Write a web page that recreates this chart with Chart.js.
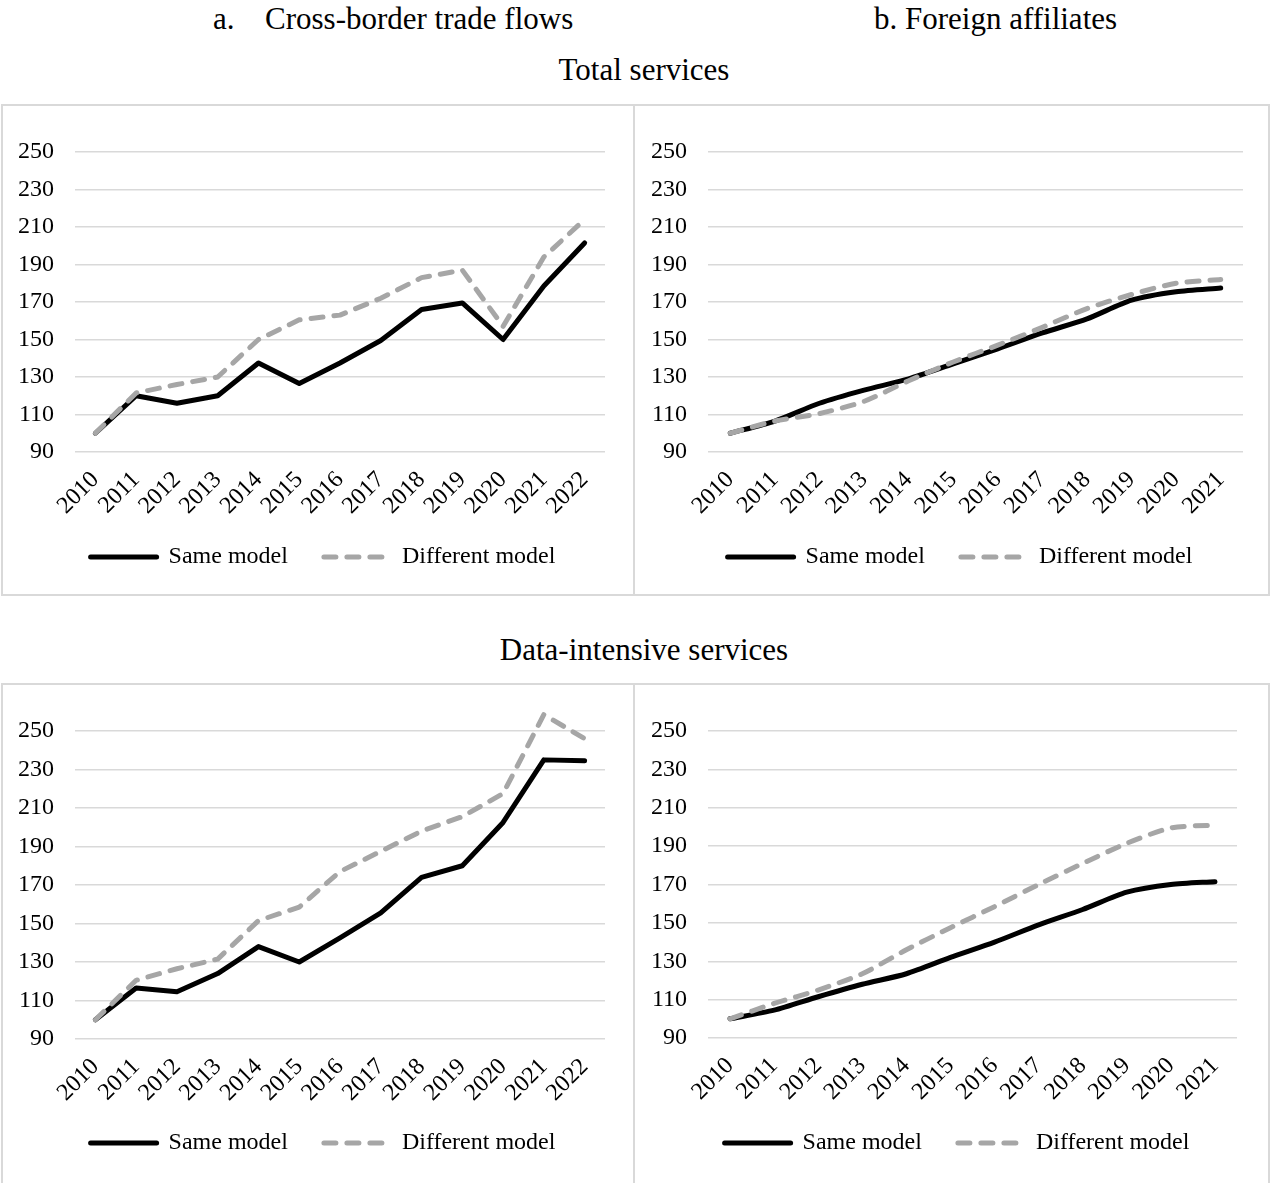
<!DOCTYPE html>
<html>
<head>
<meta charset="utf-8">
<script src="https://cdn.jsdelivr.net/npm/chart.js@4.4.1/dist/chart.umd.min.js"></script>
<style>
  body { margin: 0; background: #fff; width: 1270px; height: 1183px; overflow: hidden; position: relative;
         font-family: "Liberation Serif", "Times New Roman", serif; }
  .t { position: absolute; font-size: 31px; line-height: 31px; white-space: pre; color: #000; }
  .box { position: absolute; border: 2px solid #d9d9d9; box-sizing: border-box; }
  .box div { position: relative; width: 100%; height: 100%; }
</style>
</head>
<body>
<span class="t" style="left:213px; top:3px">a.</span>
<span class="t" style="left:265px; top:3px">Cross-border trade flows</span>
<span class="t" style="left:874px; top:3px">b. Foreign affiliates</span>
<div class="t" style="left:0; width:1288px; text-align:center; top:54px">Total services</div>
<div class="t" style="left:0; width:1288px; text-align:center; top:634px">Data-intensive services</div>

<div class="box" style="left:1px; top:104px; width:634px; height:492px"><div><canvas id="c1"></canvas></div></div>
<div class="box" style="left:633px; top:104px; width:637px; height:492px"><div><canvas id="c2"></canvas></div></div>
<div class="box" style="left:1px; top:683px; width:634px; height:502px"><div><canvas id="c3"></canvas></div></div>
<div class="box" style="left:633px; top:683px; width:637px; height:502px"><div><canvas id="c4"></canvas></div></div>

<script>
// years
const years13 = ['2010','2011','2012','2013','2014','2015','2016','2017','2018','2019','2020','2021','2022'];
const years12 = years13.slice(0, 12);

// total services - cross-border
const tradeTotalSame = [100, 120, 116, 120, 137.5, 126.5, 137.5, 149.5, 166, 169.5, 150, 178.5, 201.5];
const tradeTotalDiff = [100, 121.5, 126, 130, 150, 160.5, 163, 172, 183, 187, 157, 194, 214];
// total services - foreign affiliates
const affTotalSame = [100, 106.5, 116, 123, 129, 137, 145, 153.5, 161, 171, 175.5, 177.5];
const affTotalDiff = [100, 106.5, 110.5, 117, 128, 138, 147, 156.5, 166.5, 174, 180, 182];
// data-intensive - cross-border
const tradeDataSame = [100, 116.5, 114.5, 124, 138, 130, 142.5, 155.5, 174, 180, 202.5, 235, 234.5];
const tradeDataDiff = [100, 120.5, 126.5, 131.5, 151.5, 158.5, 177, 187.5, 198, 205.5, 217.5, 258.5, 246];
// data-intensive - foreign affiliates
const affDataSame = [100, 104.5, 111.5, 118, 123.5, 132, 140, 149, 157, 166, 170, 171.5];
const affDataDiff = [100, 108, 115, 123.5, 136, 147.5, 158.5, 170, 181, 191.5, 199.5, 201];

const seriesNames = ['Same model', 'Different model'];
const font = { family: "'Liberation Serif', 'Times New Roman', serif", size: 24 };

// legend items with the dataset's dash (point style would drop it)
function legendLabels(chart) {
  return Chart.defaults.plugins.legend.labels.generateLabels(chart).map(l => {
    const ds = chart.data.datasets[l.datasetIndex];
    l.lineDash = ds.borderDash || [];
    l.lineWidth = 5;
    l.lineCap = 'round';
    return l;
  });
}

function makeChart(id, labels, same, diff, g) {
  new Chart(document.getElementById(id), {
    type: 'line',
    data: {
      labels: labels,
      datasets: [
        { label: seriesNames[0], data: same, borderColor: '#000000', backgroundColor: '#000000',
          borderWidth: 5, pointRadius: 0, tension: g.tension, order: 1,
          borderCapStyle: 'round', borderJoinStyle: 'round' },
        { label: seriesNames[1], data: diff, borderColor: '#a6a6a6', backgroundColor: '#a6a6a6',
          borderWidth: 5, pointRadius: 0, tension: g.tension, order: 0,
          borderDash: [12, 11], borderCapStyle: 'round', borderJoinStyle: 'round' }
      ]
    },
    options: {
      responsive: true,
      maintainAspectRatio: false,
      animation: false,
      layout: { padding: { left: g.pl, right: g.pr, top: g.pt, bottom: g.pb } },
      scales: {
        x: {
          offset: true,
          grid: { display: false },
          border: { display: false },
          ticks: { font: font, color: '#000', minRotation: 45, maxRotation: 45, padding: 6, autoSkip: false },
          afterFit: s => { s.height = g.xh; s.paddingLeft = 0; s.paddingRight = 0; s._computeLabelArea = () => undefined; }
        },
        y: {
          min: 90, max: 270,
          grid: { color: '#d9d9d9', lineWidth: 1.5, drawTicks: false },
          border: { display: false },
          ticks: { font: font, color: '#000', stepSize: 20, padding: 21 },
          afterBuildTicks: s => { s.ticks = s.ticks.filter(t => t.value <= 250); },
          afterFit: s => { s.width = g.yw; s.paddingTop = 0; s.paddingBottom = 0; s._computeLabelArea = () => undefined; }
        }
      },
      plugins: {
        tooltip: { enabled: false },
        legend: {
          position: 'bottom',
          labels: {
            font: font, color: '#000', usePointStyle: true, pointStyle: 'line',
            pointStyleWidth: 66, padding: 36,
            generateLabels: legendLabels,
            sort: (a, b) => a.datasetIndex - b.datasetIndex
          }
        }
      }
    }
  });
}

makeChart('c1', years13, tradeTotalSame, tradeTotalDiff, { pl: 38, pr: 28, pt: 8.5, pb: 15, yw: 34, xh: 57, tension: 0 });
makeChart('c2', years12, affTotalSame, affTotalDiff, { pl: 42, pr: 25, pt: 8.5, pb: 15, yw: 31, xh: 57, tension: 0.25 });
makeChart('c3', years13, tradeDataSame, tradeDataDiff, { pl: 38, pr: 28, pt: 7.5, pb: 18, yw: 34, xh: 56, tension: 0 });
makeChart('c4', years12, affDataSame, affDataDiff, { pl: 42, pr: 31, pt: 7.7, pb: 18, yw: 31, xh: 57, tension: 0.25 });
</script>
</body>
</html>
